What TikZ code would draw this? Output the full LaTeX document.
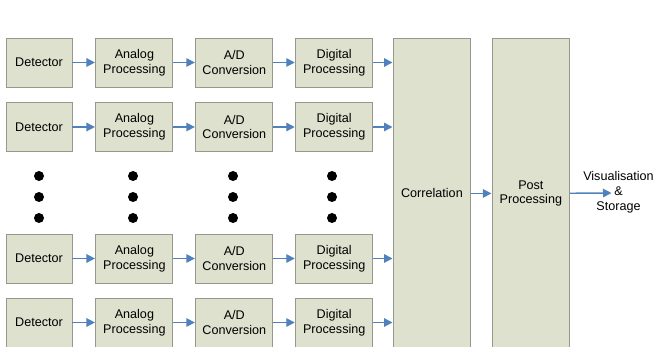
\documentclass[tikz,border=0pt]{standalone}
\usepackage{fontspec}
\setmainfont{Liberation Sans}
\usetikzlibrary{positioning,arrows.meta}

\definecolor{boxfill}{RGB}{221,225,205}
\definecolor{boxline}{RGB}{150,152,140}
\definecolor{flowblue}{RGB}{79,129,189}

\begin{document}
\begin{tikzpicture}[x=1pt,y=-1pt,node distance=22pt,
            font=\fontsize{12.6}{14.8}\selectfont,
            main node/.style={rectangle,draw=boxline,fill=boxfill,line width=0.9pt,
                inner sep=0pt,minimum width=77pt,minimum height=49pt,align=center},
            tall node/.style={main node,minimum height=310pt},
            flow/.style={draw=flowblue,line width=1.4pt,
                -{Triangle[length=8.5pt,width=8.5pt]},shorten >=0.5pt}]

        \clip (0,0) rectangle (655,347);

        % Define channel rows
        \node[main node,minimum width=66pt] (det1) at (39,62.5) {Detector};
        \node[main node] (ana1) [right=23pt of det1] {Analog\\Processing};
        \node[main node] (adc1) [right=of ana1] {A/D\\Conversion};
        \node[main node] (dig1) [right=of adc1] {Digital\\Processing};

        \node[main node,minimum width=66pt] (det2) at (39,127) {Detector};
        \node[main node] (ana2) [right=23pt of det2] {Analog\\Processing};
        \node[main node] (adc2) [right=of ana2] {A/D\\Conversion};
        \node[main node] (dig2) [right=of adc2] {Digital\\Processing};

        \node[main node,minimum width=66pt] (det3) at (39,258.5) {Detector};
        \node[main node] (ana3) [right=23pt of det3] {Analog\\Processing};
        \node[main node] (adc3) [right=of ana3] {A/D\\Conversion};
        \node[main node] (dig3) [right=of adc3] {Digital\\Processing};

        \node[main node,minimum width=66pt] (det4) at (39,322.5) {Detector};
        \node[main node] (ana4) [right=23pt of det4] {Analog\\Processing};
        \node[main node] (adc4) [right=of ana4] {A/D\\Conversion};
        \node[main node] (dig4) [right=of adc4] {Digital\\Processing};

        % Define shared stages
        \node[tall node,anchor=north west] (corr) at (393,38) {Correlation};
        \node[tall node] (post) [right=21pt of corr] {Post\\Processing};
        \node[align=center,inner sep=0pt] (vis) at (618.5,192) {Visualisation\\\&\\Storage};
        \coordinate (visin) at (612,193);

        % Ellipsis between the rows
        \fill (39,176) circle (5) (39,197) circle (5) (39,218) circle (5);
        \fill (133,176) circle (5) (133,197) circle (5) (133,218) circle (5);
        \fill (233,176) circle (5) (233,197) circle (5) (233,218) circle (5);
        \fill (332,176) circle (5) (332,197) circle (5) (332,218) circle (5);

        % Draw edges
        \draw[flow] (det1) -- (ana1); \draw[flow] (ana1) -- (adc1); \draw[flow] (adc1) -- (dig1);
        \draw[flow] (det2) -- (ana2); \draw[flow] (ana2) -- (adc2); \draw[flow] (adc2) -- (dig2);
        \draw[flow] (det3) -- (ana3); \draw[flow] (ana3) -- (adc3); \draw[flow] (adc3) -- (dig3);
        \draw[flow] (det4) -- (ana4); \draw[flow] (ana4) -- (adc4); \draw[flow] (adc4) -- (dig4);
        \draw[flow] (dig1) -- (dig1 -| corr.west);
        \draw[flow] (dig2) -- (dig2 -| corr.west);
        \draw[flow] (dig3) -- (dig3 -| corr.west);
        \draw[flow] (dig4) -- (dig4 -| corr.west);
        \draw[flow] (corr) -- (post);
        \draw[flow] (post) -- (visin);

        \end{tikzpicture}
\end{document}
